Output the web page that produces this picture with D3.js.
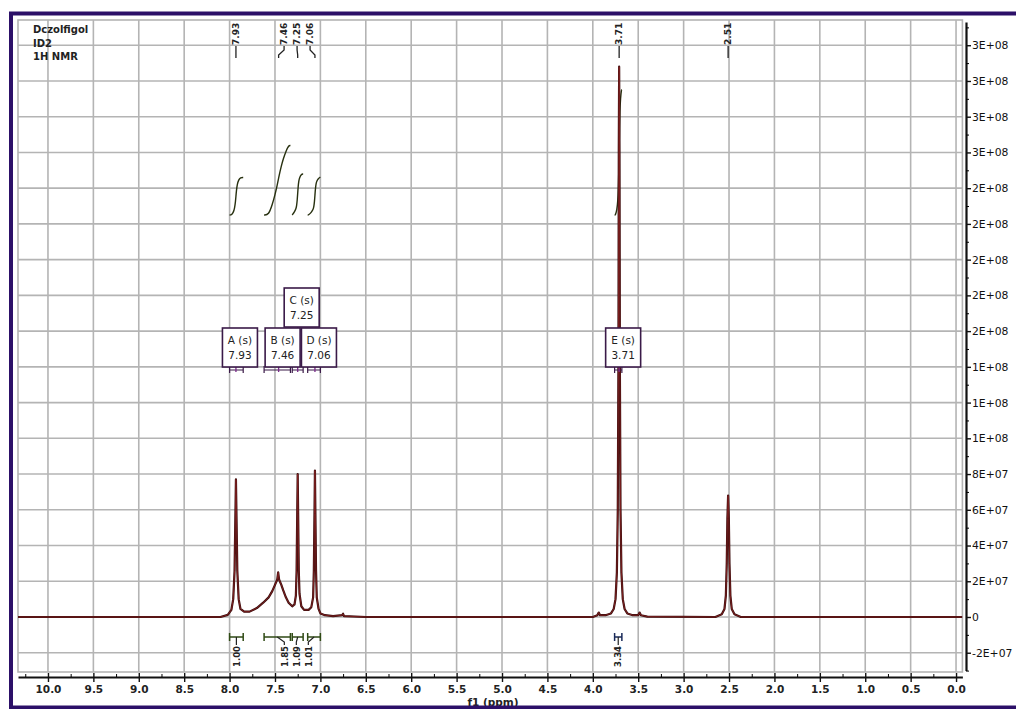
<!DOCTYPE html>
<html><head><meta charset="utf-8">
<script src="https://cdn.jsdelivr.net/npm/d3@7"></script>
<style>html,body{margin:0;padding:0;background:#fff;} svg{display:block;}</style>
</head><body><svg id="c" width="1016" height="709"></svg>
<script>
// ---------------- data ----------------
const titleLines = ["Dczolfigol", "ID2", "1H NMR"];
const xTickValues = [10.0, 9.5, 9.0, 8.5, 8.0, 7.5, 7.0, 6.5, 6.0, 5.5, 5.0, 4.5, 4.0, 3.5, 3.0, 2.5, 2.0, 1.5, 1.0, 0.5, 0.0];
const xMinorTickValues = [10.25, 9.75, 9.25, 8.75, 8.25, 7.75, 7.25, 6.75, 6.25, 5.75, 5.25, 4.75, 4.25, 3.75, 3.25, 2.75, 2.25, 1.75, 1.25, 0.75, 0.25];
const yTickValues = [-2e7, 0, 2e7, 4e7, 6e7, 8e7, 1e8, 1.2e8, 1.4e8, 1.6e8, 1.8e8, 2e8, 2.2e8, 2.4e8, 2.6e8, 2.8e8, 3e8, 3.2e8];
const yMinorTickValues = [-3e7, -1e7, 1e7, 3e7, 5e7, 7e7, 9e7, 1.1e8, 1.3e8, 1.5e8, 1.7e8, 1.9e8, 2.1e8, 2.3e8, 2.5e8, 2.7e8, 2.9e8, 3.1e8, 3.3e8];

// spectrum (ppm, intensity)
const spectrumPpm = [10.33, 8.10, 8.02, 7.98, 7.96, 7.945, 7.935, 7.93, 7.925, 7.915, 7.90, 7.88, 7.84, 7.78, 7.70, 7.63, 7.57, 7.53, 7.50, 7.475, 7.465, 7.455, 7.43, 7.41, 7.38, 7.35, 7.31, 7.285, 7.27, 7.262, 7.255, 7.25, 7.245, 7.238, 7.23, 7.21, 7.18, 7.13, 7.10, 7.08, 7.072, 7.065, 7.06, 7.055, 7.048, 7.04, 7.02, 7.00, 6.95, 6.86, 6.76, 6.75, 6.74, 6.5, 4.0, 3.95, 3.935, 3.92, 3.86, 3.80, 3.77, 3.75, 3.735, 3.725, 3.718, 3.714, 3.71, 3.706, 3.702, 3.695, 3.685, 3.67, 3.65, 3.62, 3.56, 3.50, 3.485, 3.47, 3.40, 2.65, 2.58, 2.55, 2.535, 2.525, 2.518, 2.51, 2.502, 2.495, 2.485, 2.47, 2.44, 2.37, -0.07];
const spectrumIntensity = [0, 0, 0.12e7, 0.4e7, 1.0e7, 2.6e7, 6.0e7, 7.7e7, 6.0e7, 2.6e7, 1.0e7, 0.45e7, 0.3e7, 0.3e7, 0.5e7, 0.8e7, 1.1e7, 1.45e7, 1.8e7, 2.1e7, 2.5e7, 2.1e7, 1.8e7, 1.5e7, 1.1e7, 0.8e7, 0.6e7, 0.7e7, 1.2e7, 2.6e7, 5.8e7, 8.0e7, 5.8e7, 2.6e7, 1.3e7, 0.6e7, 0.4e7, 0.4e7, 0.55e7, 1.1e7, 2.6e7, 5.8e7, 8.2e7, 5.8e7, 2.6e7, 1.1e7, 0.45e7, 0.2e7, 0.1e7, 0.05e7, 0.1e7, 0.18e7, 0.05e7, 0, 0, 0.1e7, 0.25e7, 0.1e7, 0.1e7, 0.2e7, 0.45e7, 1.0e7, 2.5e7, 6.0e7, 14e7, 26e7, 30.8e7, 26e7, 14e7, 6.0e7, 2.5e7, 1.0e7, 0.45e7, 0.2e7, 0.1e7, 0.1e7, 0.25e7, 0.1e7, 0.02e7, 0, 0.15e7, 0.45e7, 1.2e7, 3.0e7, 5.5e7, 6.8e7, 5.5e7, 3.0e7, 1.2e7, 0.45e7, 0.15e7, 0, 0];

const peakLabels = [7.93, 7.46, 7.25, 7.06, 3.71, 2.51];

const multipletNames = ["A", "B", "C", "D", "E"];
const multipletShifts = [7.93, 7.46, 7.25, 7.06, 3.71];
const multipletTypes = ["s", "s", "s", "s", "s"];

const integralFrom = [8.00, 7.62, 7.31, 7.14, 3.76];
const integralTo = [7.85, 7.33, 7.19, 7.00, 3.68];
const integralValues = [1.00, 1.85, 1.09, 1.01, 3.34];
const integralBase = 2.25e8;     // level where integral curves start
const integralUnit = 2.1e7;      // curve height for an integral of 1.00

// ---------------- layout ----------------
const svg = d3.select("#c");
const L = 18, R = 962.4, T = 20, B = 672;
const x = d3.scaleLinear().domain([10.33, -0.07]).range([18.0, 962.4]);
const y = d3.scaleLinear().domain([-3e7, 3.33e8]).range([670.6, 22]);
const gridColor = "#b4b4b4";
const font = "'DejaVu Sans', Verdana, sans-serif";

svg.append("rect").attr("width", 1016).attr("height", 709).attr("fill", "#fff");

// grid
const grid = svg.append("g");
grid.selectAll("line.v").data(xTickValues).join("line")
  .attr("x1", d => x(d)).attr("x2", d => x(d)).attr("y1", T).attr("y2", B)
  .attr("stroke", gridColor).attr("stroke-width", 1.6);
grid.selectAll("line.h").data(yTickValues).join("line")
  .attr("x1", L).attr("x2", R).attr("y1", d => y(d)).attr("y2", d => y(d))
  .attr("stroke", gridColor).attr("stroke-width", 1.6);
grid.append("rect").attr("x", L).attr("y", T).attr("width", R - L).attr("height", B - T)
  .attr("fill", "none").attr("stroke", gridColor).attr("stroke-width", 1.6);

// title
svg.append("g").selectAll("text").data(titleLines).join("text")
  .attr("x", 33).attr("y", (d, i) => 33 + i * 13.5)
  .attr("font-family", font).attr("font-size", 10).attr("font-weight", "bold").attr("fill", "#222")
  .text(d => d);

// clip
svg.append("clipPath").attr("id", "clip").append("rect")
  .attr("x", L).attr("y", T).attr("width", R - L).attr("height", B - T);

// integral curves
const pts = spectrumPpm.map((p, i) => ({p, v: spectrumIntensity[i]}));
const integralLine = d3.line().x(d => x(d.p)).y(d => y(d.v)).curve(d3.curveBasis);
integralFrom.forEach((from, i) => {
  const to = integralTo[i];
  const seg = pts.filter(d => d.p <= from && d.p >= to);
  let cum = [0];
  for (let k = 1; k < seg.length; k++) {
    cum.push(cum[k - 1] + (seg[k].v + seg[k - 1].v) / 2 * Math.abs(seg[k].p - seg[k - 1].p));
  }
  const total = cum[cum.length - 1];
  const h = integralValues[i] * integralUnit;
  const curve = [{p: from, v: integralBase}, {p: from, v: integralBase}]
    .concat(seg.map((d, k) => ({p: d.p, v: integralBase + h * cum[k] / total})))
    .concat([{p: to, v: integralBase + h}, {p: to, v: integralBase + h}]);
  svg.append("path").attr("d", integralLine(curve))
    .attr("fill", "none").attr("stroke", "#27300f").attr("stroke-width", 1.4);
});

// spectrum
const specLine = d3.line().x(d => x(d.p)).y(d => y(d.v));
svg.append("path").attr("clip-path", "url(#clip)").attr("d", specLine(pts))
  .attr("fill", "none").attr("stroke", "#3a0d0d").attr("stroke-width", 2.2).attr("stroke-linejoin", "round");
svg.append("path").attr("clip-path", "url(#clip)").attr("d", specLine(pts))
  .attr("fill", "none").attr("stroke", "#8a2323").attr("stroke-width", 0.8).attr("stroke-linejoin", "round");

// helper: spread clustered labels at fixed spacing around cluster mean
function spread(xs, gap, thresh) {
  const out = xs.slice();
  let groups = [], cur = [0];
  for (let i = 1; i < xs.length; i++) {
    if (Math.abs(xs[i] - xs[i - 1]) < thresh) cur.push(i); else { groups.push(cur); cur = [i]; }
  }
  groups.push(cur);
  groups.forEach(g => {
    if (g.length < 2) return;
    const m = d3.mean(g, i => xs[i]);
    g.forEach((i, k) => out[i] = m + (k - (g.length - 1) / 2) * gap);
  });
  return out;
}

// top peak labels
const peakX = peakLabels.map(d => x(d));
const peakLX = spread(peakX, 13, 25);
const pl = svg.append("g");
peakLabels.forEach((p, i) => {
  const px = peakX[i], lx = peakLX[i];
  pl.append("path").attr("d", `M${lx},46 L${lx},50 L${px},55 L${px},58`)
    .attr("fill", "none").attr("stroke", "#222").attr("stroke-width", 1.3);
  pl.append("text").attr("transform", `translate(${lx + 3.2},45) rotate(-90)`)
    .attr("font-family", font).attr("font-size", 9).attr("font-weight", "bold").attr("fill", "#222")
    .text(p.toFixed(2));
});

// multiplet boxes
const boxW = 35, boxH = 39, rowTop = [328, 288];
const rowsEnd = [[], []];
const boxes = multipletShifts.map((s, i) => ({i, cx: x(s) + 4}));
const order = boxes.slice().sort((a, b) => a.cx - b.cx);
order.forEach(b => {
  let r = 0;
  while (r < rowTop.length - 1 && rowsEnd[r].some(e => Math.abs(e - b.cx) < boxW - 0.5)) r++;
  rowsEnd[r].push(b.cx);
  b.row = r;
});
const mg = svg.append("g");
boxes.forEach(b => {
  const i = b.i, sx = x(multipletShifts[i]);
  const x1 = x(integralFrom[i]), x2 = x(integralTo[i]);
  mg.append("path").attr("d", `M${x1},366 L${x1},373 M${x1},370 L${x2},370 M${x2},366 L${x2},373`)
    .attr("fill", "none").attr("stroke", "#3a1a48").attr("stroke-width", 1.2);
  mg.append("line").attr("x1", sx).attr("x2", sx).attr("y1", rowTop[b.row] + boxH).attr("y2", 372)
    .attr("stroke", "#7a2a8a").attr("stroke-width", 1.3);
});
boxes.forEach(b => {
  const i = b.i, top = rowTop[b.row];
  mg.append("rect").attr("x", b.cx - boxW / 2).attr("y", top).attr("width", boxW).attr("height", boxH)
    .attr("fill", "#fff").attr("stroke", "#3a1a48").attr("stroke-width", 1.6);
  mg.append("text").attr("x", b.cx).attr("y", top + 16).attr("text-anchor", "middle")
    .attr("font-family", font).attr("font-size", 10.5).attr("fill", "#222")
    .text(`${multipletNames[i]} (${multipletTypes[i]})`);
  mg.append("text").attr("x", b.cx).attr("y", top + 31).attr("text-anchor", "middle")
    .attr("font-family", font).attr("font-size", 10.5).attr("fill", "#222")
    .text(multipletShifts[i].toFixed(2));
});

// integral brackets at bottom
const ig = svg.append("g");
const intCX = integralFrom.map((f, i) => (x(f) + x(integralTo[i])) / 2);
const intLX = spread(intCX, 12, 25);
integralFrom.forEach((f, i) => {
  const x1 = x(f), x2 = x(integralTo[i]), cx = intCX[i], lx = intLX[i];
  const col = i === 4 ? "#1a2a5a" : "#2f4a14";
  ig.append("path").attr("d", `M${x1},633 L${x1},641 M${x1},637 L${x2},637 M${x2},633 L${x2},641`)
    .attr("fill", "none").attr("stroke", col).attr("stroke-width", 1.5);
  ig.append("path").attr("d", `M${cx},637 L${lx},642 L${lx},645`)
    .attr("fill", "none").attr("stroke", "#222").attr("stroke-width", 1.2);
  ig.append("text").attr("transform", `translate(${lx + 3.2},646) rotate(-90)`)
    .attr("text-anchor", "end")
    .attr("font-family", font).attr("font-size", 8.5).attr("font-weight", "bold").attr("fill", "#222")
    .text(integralValues[i].toFixed(2));
});

// y axis (right)
function sci(v) {
  if (v === 0) return "0";
  const a = Math.abs(v);
  let e = Math.floor(Math.log10(a));
  let m = Math.round(a / Math.pow(10, e));
  if (m === 10) { m = 1; e += 1; }
  return (v < 0 ? "-" : "") + m + "E+" + String(e).padStart(2, "0");
}
const yAxis = svg.append("g").attr("transform", "translate(966,0)")
  .call(d3.axisRight(y).tickValues(yTickValues).tickSize(5).tickSizeOuter(0).tickFormat(sci));
svg.append("g").attr("transform", "translate(966,0)")
  .call(d3.axisRight(y).tickValues(yMinorTickValues).tickSize(3).tickSizeOuter(0).tickFormat(""))
  .call(g => g.select(".domain").remove());
yAxis.select(".domain").attr("stroke-width", 2.2).attr("stroke", "#111");
yAxis.selectAll(".tick line").attr("stroke-width", 1.4).attr("stroke", "#111");
yAxis.selectAll(".tick text").attr("font-family", font).attr("font-size", 10.8).attr("fill", "#111").attr("x", 6);

// x axis (bottom)
const xAxis = svg.append("g").attr("transform", "translate(0,677)")
  .call(d3.axisBottom(x).tickValues(xTickValues).tickSize(5).tickSizeOuter(0).tickFormat(d3.format(".1f")));
svg.append("g").attr("transform", "translate(0,677)")
  .call(d3.axisTop(x).tickValues(xMinorTickValues).tickSize(3).tickSizeOuter(0).tickFormat(""))
  .call(g => g.select(".domain").remove());
xAxis.select(".domain").attr("stroke-width", 2.2).attr("stroke", "#111");
xAxis.selectAll(".tick line").attr("stroke-width", 1.4).attr("stroke", "#111").attr("y1", -4);
xAxis.selectAll(".tick text").attr("font-family", font).attr("font-size", 10.5).attr("font-weight", "bold").attr("fill", "#222").attr("y", 9);
svg.append("text").attr("x", 493).attr("y", 706).attr("text-anchor", "middle")
  .attr("font-family", font).attr("font-size", 10.5).attr("font-weight", "bold").attr("fill", "#222").text("f1 (ppm)");

// outer purple frame
svg.append("rect").attr("x", 11).attr("y", 13.5).attr("width", 1020).attr("height", 694)
  .attr("fill", "none").attr("stroke", "#2c1068").attr("stroke-width", 4);
</script></body></html>
